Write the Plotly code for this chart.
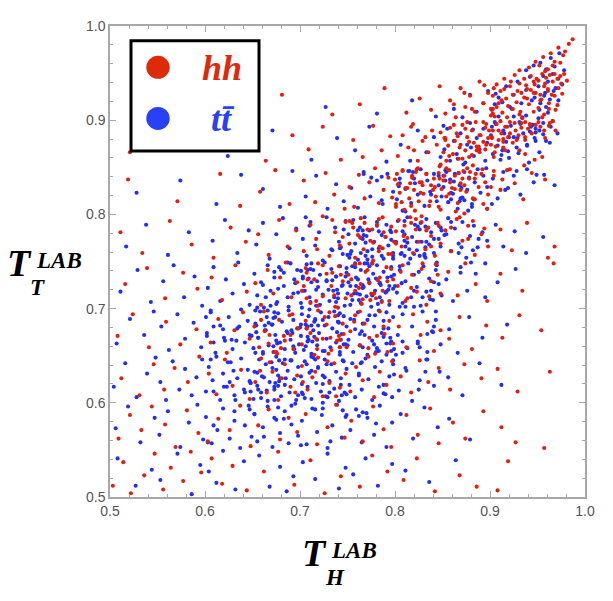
import plotly.graph_objects as go

# points, roughly cell by cell (0.05 x 0.05), bottom row first
tt_points = [
    # y 0.50-0.55
    (.508,.541),(.527,.512),(.544,.529),
    (.553,.518),(.571,.546),(.586,.503),(.595,.534),
    (.604,.527),(.619,.549),(.632,.508),(.641,.538),(.612,.515),
    (.657,.544),(.668,.511),(.679,.532),(.693,.522),(.686,.506),
    (.703,.537),(.716,.519),(.729,.546),(.741,.509),(.748,.531),
    (.756,.524),(.769,.541),(.782,.512),(.797,.535),
    (.811,.528),(.836,.516),(.864,.539),
    # y 0.55-0.60
    (.506,.573),(.519,.596),(.532,.558),(.547,.584),
    (.552,.566),(.561,.591),(.574,.553),(.583,.579),(.592,.598),(.598,.561),
    (.601,.585),(.607,.557),(.613,.571),(.619,.594),(.626,.562),(.631,.581),(.637,.552),(.642,.576),(.646,.597),(.649,.564),
    (.652,.588),(.655,.559),(.661,.574),(.666,.596),(.671,.553),(.675,.582),(.679,.568),(.684,.591),(.688,.557),(.691,.577),(.695,.599),(.698,.565),
    (.702,.581),(.707,.556),(.713,.594),(.718,.569),(.723,.587),(.729,.552),(.734,.576),(.739,.598),(.744,.563),(.748,.585),
    (.753,.571),(.759,.593),(.765,.558),(.771,.584),(.778,.566),(.784,.597),(.791,.553),(.797,.579),
    (.806,.588),(.819,.562),(.831,.595),(.845,.574),(.857,.583),(.879,.561),
    # y 0.60-0.65
    (.504,.617),(.516,.642),(.528,.606),(.539,.631),(.548,.648),
    (.553,.622),(.559,.603),(.566,.644),(.573,.614),(.579,.636),(.586,.608),(.591,.627),(.597,.646),
    (.601,.612),(.604,.638),(.608,.624),(.612,.649),(.616,.603),(.619,.631),(.623,.617),(.627,.643),(.631,.608),(.634,.626),(.638,.647),(.641,.614),(.645,.635),(.648,.621),
    (.651,.604),(.652,.633),(.655,.618),(.657,.646),(.659,.611),(.662,.627),(.664,.641),(.666,.602),(.668,.622),(.671,.637),(.673,.614),
    (.675,.649),(.677,.629),(.680,.607),(.682,.642),(.684,.619),(.687,.634),(.689,.611),(.691,.645),(.694,.625),(.696,.603),(.698,.638),
    (.701,.628),(.703,.609),(.705,.644),(.708,.617),(.710,.632),(.712,.604),(.714,.648),(.717,.621),(.719,.637),(.722,.612),(.724,.629),
    (.726,.646),(.729,.606),(.731,.623),(.733,.641),(.736,.615),(.738,.633),(.741,.602),(.743,.626),(.745,.645),(.747,.611),(.749,.636),
    (.752,.619),(.755,.642),(.758,.606),(.762,.631),(.765,.614),(.769,.647),(.772,.625),(.776,.603),(.779,.638),(.783,.617),(.786,.644),(.790,.609),(.794,.628),(.798,.641),
    (.804,.613),(.811,.637),(.818,.602),(.826,.624),(.833,.646),(.841,.618),(.847,.633),
    (.856,.627),(.871,.608),(.889,.642),(.912,.619),
    # y 0.65-0.70
    (.507,.663),(.521,.689),(.536,.672),(.546,.697),
    (.554,.681),(.562,.656),(.571,.694),(.579,.668),(.588,.685),(.596,.659),
    (.602,.674),(.606,.696),(.611,.653),(.616,.682),(.621,.666),(.625,.691),(.629,.657),(.634,.679),(.638,.699),(.642,.664),(.645,.687),(.649,.671),
    (.651,.658),(.653,.684),(.656,.669),(.658,.697),(.661,.652),(.663,.677),(.665,.691),(.667,.661),(.670,.683),(.672,.654),(.674,.672),
    (.677,.695),(.679,.664),(.681,.686),(.684,.657),(.686,.676),(.688,.698),(.690,.667),(.693,.688),(.695,.653),(.697,.679),(.699,.662),
    (.701,.671),(.702,.694),(.704,.656),(.706,.683),(.708,.665),(.710,.699),(.712,.652),(.714,.677),(.716,.688),(.718,.661),(.720,.674),(.722,.696),(.724,.655),
    (.726,.682),(.728,.668),(.730,.691),(.732,.659),(.734,.679),(.736,.697),(.738,.664),(.740,.686),(.742,.651),(.744,.673),(.746,.692),(.748,.662),(.749,.681),
    (.751,.667),(.753,.689),(.756,.654),(.758,.678),(.761,.696),(.763,.661),(.766,.684),(.768,.672),(.771,.651),(.773,.693),
    (.776,.666),(.778,.681),(.781,.658),(.783,.698),(.786,.674),(.788,.687),(.791,.663),(.793,.679),(.796,.655),(.798,.691),
    (.803,.672),(.808,.694),(.813,.658),(.818,.681),(.824,.665),(.829,.697),(.834,.654),(.839,.676),(.843,.688),(.848,.662),
    (.857,.678),(.866,.653),(.878,.691),(.892,.669),(.918,.683),
    # y 0.70-0.75
    (.511,.718),(.529,.741),(.543,.707),
    (.556,.729),(.567,.746),(.578,.712),(.589,.734),(.597,.703),
    (.603,.722),(.609,.744),(.616,.708),(.622,.731),(.629,.716),(.635,.749),(.641,.726),(.647,.704),
    (.652,.737),(.655,.714),(.659,.728),(.662,.701),(.666,.746),(.669,.719),(.673,.733),(.676,.707),(.680,.741),(.683,.724),(.687,.712),(.690,.748),(.694,.731),(.698,.717),
    (.701,.706),(.703,.734),(.705,.719),(.707,.747),(.710,.712),(.712,.728),(.714,.741),(.717,.703),(.719,.723),(.721,.736),(.724,.715),
    (.726,.749),(.728,.729),(.731,.708),(.733,.742),(.735,.719),(.738,.734),(.740,.711),(.742,.745),(.745,.725),(.747,.703),(.749,.738),
    (.751,.728),(.753,.704),(.755,.745),(.757,.716),(.759,.733),(.762,.709),(.764,.741),(.766,.722),(.768,.748),(.770,.713),(.772,.731),(.775,.702),
    (.777,.737),(.779,.719),(.781,.746),(.784,.727),(.786,.708),(.788,.739),(.790,.717),(.792,.733),(.794,.704),(.796,.744),(.798,.721),(.799,.736),
    (.802,.717),(.805,.741),(.808,.706),(.811,.729),(.814,.748),(.817,.712),(.820,.736),(.823,.723),
    (.827,.703),(.830,.745),(.833,.718),(.836,.732),(.840,.709),(.843,.741),(.846,.726),(.849,.714),
    (.854,.731),(.861,.708),(.869,.744),(.876,.719),(.885,.737),(.895,.712),(.908,.728),(.927,.742),
    # y 0.75-0.80
    (.517,.766),(.538,.789),(.561,.757),(.583,.781),
    (.608,.772),(.621,.794),(.634,.759),(.646,.783),
    (.654,.768),(.661,.791),(.668,.753),(.675,.779),(.682,.796),(.689,.764),(.696,.785),
    (.703,.774),(.707,.756),(.711,.792),(.716,.767),(.720,.781),(.724,.751),(.728,.797),(.733,.763),(.737,.786),(.741,.771),(.745,.758),(.748,.793),
    (.751,.779),(.753,.758),(.756,.794),(.758,.769),(.761,.752),(.763,.786),(.766,.774),(.768,.797),(.771,.761),(.773,.783),
    (.776,.755),(.778,.771),(.781,.792),(.783,.764),(.786,.778),(.788,.753),(.791,.789),(.793,.767),(.796,.781),(.798,.759),
    (.801,.771),(.803,.793),(.806,.758),(.808,.782),(.811,.766),(.813,.797),(.816,.753),(.818,.776),(.821,.789),(.823,.762),
    (.826,.784),(.828,.771),(.831,.756),(.833,.795),(.836,.768),(.838,.781),(.841,.759),(.843,.791),(.846,.774),(.848,.786),
    (.852,.778),(.856,.796),(.859,.761),(.863,.785),(.867,.769),(.871,.792),(.875,.754),(.879,.777),(.883,.788),(.887,.765),(.892,.781),(.897,.772),
    (.906,.789),(.914,.766),(.926,.782),(.938,.759),(.956,.776),
    # y 0.80-0.85
    (.528,.823),(.574,.836),(.612,.811),(.638,.842),
    (.661,.827),(.679,.808),(.692,.846),
    (.706,.819),(.717,.841),(.729,.806),(.738,.832),(.746,.814),
    (.754,.828),(.761,.807),(.767,.845),(.774,.819),(.781,.836),(.787,.811),(.792,.843),(.798,.824),
    (.802,.816),(.805,.838),(.808,.804),(.811,.827),(.814,.846),(.817,.812),(.821,.833),(.824,.821),
    (.827,.848),(.831,.809),(.834,.836),(.837,.824),(.841,.843),(.844,.814),(.846,.831),(.849,.819),
    (.851,.829),(.853,.847),(.856,.813),(.858,.837),(.861,.822),(.863,.843),(.866,.806),(.868,.831),(.871,.818),
    (.873,.845),(.876,.826),(.878,.839),(.881,.811),(.884,.834),(.887,.848),(.890,.823),(.893,.841),(.897,.829),
    (.903,.838),(.908,.817),(.914,.845),(.919,.828),(.925,.841),(.932,.821),(.939,.848),(.946,.834),
    (.957,.842),(.968,.831),
    # y 0.85-0.90
    (.531,.874),(.624,.862),(.671,.889),(.712,.858),(.739,.881),
    (.758,.868),(.773,.893),(.791,.856),
    (.806,.874),(.816,.857),(.824,.889),(.833,.866),(.841,.882),(.848,.861),
    (.852,.869),(.855,.891),(.858,.857),(.862,.878),(.865,.864),(.869,.886),(.872,.853),
    (.876,.874),(.879,.897),(.883,.862),(.886,.881),(.889,.869),(.893,.891),(.897,.876),
    (.901,.884),(.903,.864),(.906,.896),(.908,.873),(.911,.858),(.914,.889),(.917,.877),(.919,.867),
    (.922,.894),(.925,.882),(.928,.871),(.931,.898),(.935,.886),(.939,.874),(.943,.893),(.947,.881),
    (.952,.889),(.956,.897),(.959,.878),(.964,.893),(.971,.886),
    # y 0.90-0.95
    (.727,.914),(.781,.907),(.818,.921),(.843,.904),
    (.862,.912),(.871,.903),(.879,.927),(.886,.909),(.893,.918),(.898,.931),
    (.902,.911),(.906,.928),(.909,.904),(.913,.919),(.917,.936),(.921,.914),
    (.925,.927),(.929,.941),(.933,.918),(.938,.932),(.942,.946),(.947,.924),
    (.951,.936),(.953,.918),(.956,.947),(.958,.929),(.961,.941),(.963,.922),(.966,.949),(.969,.934),(.972,.944),(.976,.938),
    # y 0.95-1.00
    (.938,.953),(.946,.958),(.953,.961),(.959,.954),(.964,.966),(.968,.957),(.973,.971),
    # second pass over the dense parts
    (.631,.591),(.609,.576),(.603,.558),(.647,.593),
    (.673,.584),(.662,.564),(.683,.583),(.677,.595),(.652,.588),(.691,.597),
    (.716,.593),(.749,.587),(.701,.555),(.732,.559),(.724,.594),(.745,.592),
    (.780,.578),(.766,.590),(.762,.586),(.770,.589),
    (.648,.612),(.630,.634),(.632,.603),(.642,.611),(.620,.617),(.648,.621),
    (.698,.608),(.665,.613),(.678,.623),(.656,.614),(.670,.643),(.684,.646),(.659,.605),(.655,.632),(.673,.617),(.675,.635),
    (.744,.608),(.712,.634),(.731,.611),(.724,.600),(.728,.641),(.702,.620),(.719,.638),(.702,.611),(.705,.605),(.746,.644),
    (.762,.629),(.798,.645),(.799,.630),(.788,.619),(.764,.642),(.788,.610),(.797,.606),(.765,.643),
    (.834,.646),(.812,.634),(.825,.614),(.832,.633),
    (.628,.667),(.633,.666),(.602,.671),(.620,.669),(.609,.664),(.606,.698),
    (.656,.669),(.673,.696),(.653,.698),(.661,.654),(.654,.682),(.666,.698),(.671,.683),(.693,.660),(.672,.660),(.674,.691),(.691,.677),(.687,.674),
    (.708,.670),(.706,.660),(.713,.665),(.708,.681),(.724,.688),(.715,.670),(.742,.659),(.712,.682),(.742,.654),(.709,.667),(.715,.686),(.743,.667),(.739,.675),(.740,.686),
    (.750,.661),(.783,.655),(.780,.654),(.788,.670),(.796,.665),(.771,.688),(.791,.696),(.795,.669),(.791,.651),(.766,.659),
    (.841,.681),(.826,.659),(.808,.653),(.843,.697),(.834,.673),
    (.664,.712),(.683,.738),(.695,.727),(.688,.702),(.697,.741),(.693,.716),(.687,.749),(.655,.701),
    (.709,.732),(.744,.724),(.742,.745),(.728,.730),(.740,.716),(.736,.712),(.739,.720),(.712,.748),(.734,.730),(.703,.732),(.711,.742),(.717,.720),
    (.771,.748),(.758,.748),(.763,.715),(.773,.728),(.764,.706),(.793,.720),(.796,.734),(.755,.709),(.782,.705),(.767,.723),(.785,.725),(.758,.744),(.784,.712),(.761,.731),
    (.800,.724),(.841,.728),(.820,.702),(.838,.719),(.811,.702),(.805,.745),(.844,.746),(.829,.712),
    (.895,.748),(.880,.749),(.869,.738),
    (.742,.764),(.710,.788),(.706,.797),(.743,.765),(.746,.784),(.734,.762),
    (.764,.775),(.783,.782),(.767,.778),(.766,.783),(.771,.752),(.769,.770),(.764,.759),(.798,.756),(.769,.756),(.796,.773),(.798,.753),(.754,.761),
    (.832,.754),(.848,.766),(.833,.771),(.810,.793),(.810,.772),(.841,.774),(.827,.791),(.824,.787),(.820,.758),(.810,.756),(.815,.763),(.831,.758),
    (.888,.774),(.870,.765),(.859,.792),(.882,.762),(.854,.779),(.867,.759),
    (.786,.815),(.767,.843),(.775,.839),(.786,.840),
    (.811,.803),(.805,.833),(.804,.830),(.820,.838),(.815,.846),(.838,.821),(.846,.841),(.819,.845),
    (.851,.841),(.859,.816),(.881,.808),(.859,.823),(.853,.836),(.897,.806),(.873,.815),(.862,.835),(.883,.816),(.877,.804),
    (.902,.811),(.928,.846),(.916,.826),(.949,.842),
    (.851,.894),(.882,.890),(.874,.855),(.895,.857),(.880,.871),(.866,.859),
    (.912,.863),(.920,.860),(.948,.887),(.930,.865),(.932,.896),(.942,.888),(.920,.882),(.948,.878),(.948,.891),(.915,.886),
    (.963,.876),(.956,.885),(.966,.899),
    (.934,.903),(.909,.924),(.905,.917),(.923,.912),(.925,.904),(.944,.921),
    (.952,.911),(.957,.926),(.961,.908),(.967,.931),(.972,.921),(.978,.953),
    (.938,.905),(.951,.902),(.959,.914),(.941,.855),(.952,.866),
    # third pass, core of the blob
    (.677,.618),(.679,.626),(.678,.645),(.690,.645),(.673,.603),(.660,.628),(.674,.621),(.685,.626),
    (.712,.649),(.727,.607),(.724,.620),(.743,.619),(.749,.609),(.707,.641),(.716,.646),(.726,.627),
    (.672,.690),(.676,.663),(.653,.653),(.654,.675),(.694,.657),(.663,.682),(.667,.685),(.675,.666),(.664,.677),(.692,.674),
    (.716,.689),(.719,.682),(.700,.680),(.709,.692),(.718,.667),(.741,.685),(.746,.662),(.740,.693),(.707,.679),(.701,.683),(.742,.695),(.726,.655),
    (.795,.663),(.757,.688),(.763,.673),(.778,.662),(.779,.693),(.799,.657),(.765,.676),(.788,.679),
    (.738,.707),(.703,.719),(.702,.701),(.701,.740),(.711,.707),(.738,.734),(.718,.729),(.730,.720),(.721,.704),(.708,.741),(.749,.743),(.748,.734),
    (.766,.725),(.759,.724),(.776,.714),(.760,.716),(.780,.732),(.776,.748),(.750,.716),(.784,.727),(.791,.718),(.753,.724),(.773,.745),(.794,.724),
    (.837,.710),(.825,.739),(.807,.727),(.844,.749),(.820,.719),(.805,.702),
    (.770,.777),(.761,.783),(.786,.756),(.776,.763),(.781,.788),(.795,.783),(.750,.757),(.752,.754),
    (.849,.783),(.832,.765),(.810,.779),(.826,.756),(.823,.771),(.813,.770),(.807,.759),(.832,.787),
    (.609,.612),(.624,.643),(.626,.622),(.647,.623),(.606,.646),
    (.647,.672),(.609,.681),(.601,.691),(.619,.678),(.636,.681),
    (.840,.675),(.801,.651),(.808,.665),(.824,.663),
    (.677,.721),(.661,.725),(.673,.739),(.678,.744),(.675,.705),(.669,.703),
    (.869,.817),(.870,.828),(.854,.845),(.896,.849),(.867,.844),(.868,.814),
    (.945,.895),(.905,.898),(.929,.881),(.913,.868),(.939,.873),(.902,.893),
]

hh_points = [
    # y 0.50-0.55
    (.503,.512),(.514,.537),(.522,.504),(.536,.523),(.547,.546),
    (.556,.508),(.564,.531),(.577,.517),(.585,.548),(.596,.526),
    (.607,.541),(.618,.514),(.629,.533),(.644,.507),
    (.662,.527),(.677,.548),(.694,.513),
    (.711,.539),(.726,.504),(.743,.522),
    (.763,.511),(.776,.544),(.792,.527),
    (.809,.518),(.823,.541),(.842,.506),
    (.868,.523),(.886,.511),(.919,.538),(.908,.507),
    # y 0.55-0.60
    (.509,.562),(.521,.587),(.533,.571),(.544,.596),
    (.558,.577),(.569,.553),(.581,.592),(.593,.568),
    (.603,.559),(.614,.583),(.626,.571),(.637,.597),(.648,.554),
    (.656,.576),(.667,.593),(.679,.561),(.688,.584),(.697,.569),
    (.706,.588),(.718,.556),(.729,.574),(.738,.598),(.747,.563),
    (.754,.581),(.766,.559),(.777,.596),(.788,.572),(.796,.553),
    (.812,.587),(.824,.566),(.837,.594),(.846,.557),
    (.861,.579),(.874,.562),(.893,.591),(.912,.574),(.927,.558),(.957,.552),
    # y 0.60-0.65
    (.512,.626),(.531,.608),(.546,.641),
    (.557,.614),(.568,.637),(.582,.622),(.594,.649),
    (.604,.631),(.612,.609),(.621,.646),(.629,.618),(.638,.635),(.647,.604),
    (.653,.622),(.659,.647),(.665,.611),(.671,.633),(.677,.603),(.684,.641),(.690,.617),(.697,.629),
    (.702,.639),(.708,.614),(.713,.627),(.719,.648),(.724,.607),(.731,.621),(.736,.642),(.742,.616),(.748,.631),
    (.753,.612),(.759,.638),(.766,.624),(.772,.649),(.778,.606),(.784,.633),(.791,.619),(.797,.644),
    (.806,.628),(.817,.611),(.826,.645),(.835,.622),(.846,.637),
    (.858,.614),(.873,.641),(.891,.626),(.908,.636),(.929,.612),(.963,.633),
    # y 0.65-0.70
    (.508,.671),(.524,.694),(.541,.659),
    (.559,.686),(.574,.662),(.591,.678),
    (.606,.664),(.614,.689),(.623,.653),(.631,.677),(.640,.696),(.647,.668),
    (.652,.681),(.657,.659),(.662,.697),(.668,.672),(.673,.654),(.678,.688),(.684,.666),(.689,.693),(.693,.657),(.698,.679),
    (.702,.662),(.706,.687),(.711,.674),(.715,.651),(.719,.698),(.724,.668),(.728,.683),(.733,.656),(.737,.692),(.741,.671),(.745,.684),(.749,.659),
    (.753,.676),(.758,.693),(.763,.661),(.768,.684),(.773,.669),(.779,.652),(.784,.697),(.789,.673),(.794,.687),(.798,.663),
    (.804,.681),(.812,.659),(.819,.694),(.827,.672),(.834,.686),(.841,.655),(.848,.677),
    (.857,.668),(.868,.691),(.881,.657),(.896,.682),(.913,.669),(.931,.693),(.954,.677),
    # y 0.70-0.75
    (.516,.726),(.539,.743),
    (.558,.711),(.577,.738),(.592,.721),
    (.607,.733),(.618,.709),(.632,.746),(.644,.718),
    (.653,.727),(.659,.704),(.666,.741),(.672,.716),(.679,.733),(.685,.749),(.691,.712),(.697,.728),
    (.702,.719),(.706,.743),(.711,.706),(.715,.731),(.719,.748),(.724,.713),(.728,.737),(.733,.724),(.737,.702),(.741,.745),(.745,.729),(.748,.711),
    (.751,.736),(.754,.714),(.758,.747),(.762,.722),(.765,.705),(.769,.739),(.773,.727),
    (.776,.748),(.780,.711),(.784,.733),(.787,.719),(.791,.744),(.794,.708),(.798,.731),
    (.803,.724),(.808,.746),(.813,.711),(.818,.736),(.823,.718),(.828,.742),(.833,.704),(.838,.729),(.843,.747),(.848,.716),
    (.856,.739),(.866,.714),(.874,.748),(.885,.726),(.897,.708),(.911,.737),(.934,.719),(.967,.748),
    # y 0.75-0.80
    (.511,.781),(.534,.759),(.563,.793),(.586,.768),
    (.609,.754),(.627,.786),(.643,.771),
    (.656,.779),(.667,.757),(.678,.794),(.687,.766),(.696,.783),
    (.704,.761),(.711,.789),(.717,.774),(.724,.798),(.731,.756),(.737,.781),(.742,.767),(.748,.792),
    (.752,.769),(.755,.791),(.758,.754),(.761,.778),(.764,.796),(.767,.763),(.771,.784),(.774,.772),
    (.777,.751),(.781,.789),(.784,.766),(.787,.797),(.790,.776),(.793,.758),(.796,.787),(.799,.771),
    (.801,.782),(.804,.794),(.807,.766),(.810,.788),(.813,.775),(.816,.797),(.819,.759),(.822,.784),
    (.825,.771),(.828,.792),(.832,.763),(.835,.786),(.838,.777),(.842,.756),(.845,.791),(.848,.769),
    (.853,.783),(.859,.761),(.865,.795),(.871,.772),(.877,.788),(.884,.757),(.891,.779),(.898,.766),
    (.911,.784),(.923,.762),(.939,.791),(.961,.754),(.968,.766),
    # y 0.80-0.85
    (.519,.837),(.571,.814),(.616,.843),(.637,.809),
    (.658,.824),(.674,.847),(.689,.811),
    (.704,.836),(.716,.813),(.727,.844),(.736,.821),(.747,.806),
    (.752,.829),(.757,.808),(.762,.842),(.768,.817),(.773,.834),(.779,.849),(.783,.812),(.788,.826),(.793,.839),(.797,.818),
    (.801,.811),(.803,.832),(.805,.823),(.808,.846),(.810,.805),(.813,.828),(.815,.817),(.818,.839),(.820,.826),(.823,.848),
    (.825,.814),(.828,.834),(.830,.822),(.833,.843),(.836,.809),(.838,.831),(.841,.838),(.843,.819),(.846,.844),(.849,.827),
    (.851,.836),(.854,.819),(.857,.847),(.860,.828),(.863,.841),(.866,.812),(.869,.833),(.872,.846),
    (.875,.824),(.878,.838),(.882,.817),(.885,.843),(.888,.829),(.892,.848),(.895,.834),(.898,.821),
    (.904,.841),(.911,.826),(.918,.847),(.926,.833),(.935,.816),(.944,.844),(.958,.837),
    # y 0.85-0.90
    (.521,.866),(.583,.891),(.641,.872),(.664,.857),(.692,.884),
    (.709,.869),(.724,.893),(.743,.858),
    (.756,.879),(.766,.861),(.777,.894),(.786,.868),(.795,.883),
    (.803,.862),(.808,.884),(.814,.871),(.819,.896),(.824,.857),(.829,.878),(.835,.866),(.839,.889),(.844,.874),(.848,.853),
    (.851,.866),(.852,.881),(.854,.857),(.856,.873),(.858,.892),(.861,.864),(.863,.878),(.865,.886),(.867,.859),(.869,.874),(.871,.895),
    (.874,.868),(.876,.882),(.878,.861),(.881,.889),(.883,.876),(.885,.898),(.888,.869),(.890,.884),(.893,.877),(.895,.892),(.898,.881),
    (.901,.874),(.903,.889),(.905,.866),(.907,.896),(.909,.879),(.912,.886),(.914,.871),(.916,.893),(.919,.882),
    (.921,.898),(.924,.876),(.927,.889),(.930,.884),(.933,.897),(.937,.879),(.940,.891),(.944,.886),(.948,.895),
    (.953,.893),(.958,.881),(.963,.897),(.969,.889),
    # y 0.90-0.95
    (.566,.912),(.681,.927),(.734,.906),(.763,.917),(.789,.934),
    (.812,.908),(.826,.923),(.838,.911),(.847,.936),
    (.853,.907),(.858,.921),(.864,.903),(.869,.934),(.874,.914),(.879,.926),(.884,.909),(.889,.941),(.893,.918),(.898,.929),
    (.901,.912),(.903,.926),(.905,.904),(.907,.938),(.909,.918),(.911,.931),(.913,.908),(.915,.944),(.917,.923),(.919,.915),
    (.921,.936),(.924,.927),(.926,.948),(.928,.919),(.931,.939),(.933,.929),(.936,.944),(.939,.933),(.943,.947),(.947,.938),
    (.951,.942),(.953,.927),(.955,.949),(.957,.936),(.959,.945),(.961,.931),(.963,.948),(.966,.941),(.968,.949),(.971,.944),(.974,.947),(.978,.949),
    # y 0.95-1.00
    (.931,.953),(.941,.956),(.948,.962),
    (.952,.958),(.956,.967),(.961,.954),(.964,.971),(.968,.962),(.972,.977),(.977,.969),(.983,.981),(.987,.986),
    # second pass over the diagonal band and the core
    (.768,.791),(.790,.776),(.796,.758),(.752,.793),(.776,.784),(.787,.764),
    (.817,.791),(.833,.783),(.801,.769),(.822,.795),(.846,.788),(.809,.777),(.828,.798),(.838,.766),
    (.818,.841),(.840,.826),(.846,.808),(.802,.843),(.826,.834),(.837,.814),(.816,.833),
    (.822,.845),(.847,.838),(.808,.847),(.833,.843),(.800,.837),(.848,.805),(.817,.809),
    (.867,.844),(.854,.849),(.858,.834),(.871,.838),(.863,.827),(.852,.841),
    (.879,.845),(.884,.838),(.869,.826),(.857,.822),(.876,.849),(.891,.843),
    (.904,.846),(.913,.837),(.901,.829),(.921,.848),
    (.868,.871),(.881,.863),(.874,.891),(.853,.879),(.862,.895),(.886,.872),(.893,.898),
    (.899,.889),(.857,.862),(.878,.877),(.866,.883),(.889,.866),(.871,.859),(.896,.874),
    (.902,.881),(.918,.893),(.906,.872),(.926,.897),(.911,.899),(.933,.892),(.904,.861),
    (.921,.886),(.914,.877),(.937,.898),(.909,.889),(.928,.879),(.942,.896),(.916,.868),
    (.951,.898),(.957,.889),(.962,.894),(.966,.899),
    (.903,.907),(.912,.921),(.918,.903),(.924,.912),(.931,.906),(.936,.924),(.907,.914),
    (.941,.917),(.929,.931),(.946,.929),(.915,.933),(.922,.941),(.938,.937),(.949,.944),
    (.951,.913),(.954,.922),(.957,.906),(.962,.918),(.965,.927),(.969,.911),(.972,.934),(.958,.939),(.976,.928),(.981,.942),
    (.958,.952),(.966,.958),(.974,.961),(.979,.973),
    (.934,.902),(.946,.909),(.955,.903),(.962,.912),(.971,.916),
    (.936,.852),(.947,.858),(.955,.861),
    (.668,.643),(.681,.626),(.695,.611),(.658,.634),
    (.703,.622),(.729,.644),(.738,.607),(.716,.633),
    (.683,.671),(.659,.688),(.692,.694),(.667,.663),(.676,.652),
    (.707,.679),(.731,.696),(.742,.667),(.718,.657),(.726,.691),(.746,.673),
    (.757,.686),(.772,.658),(.788,.681),(.763,.697),(.792,.654),(.781,.671),
    (.708,.731),(.724,.746),(.736,.714),(.717,.708),(.743,.736),(.704,.724),
    (.758,.719),(.771,.741),(.786,.707),(.792,.729),(.763,.748),(.778,.716),(.796,.742),(.754,.731),
    (.806,.739),(.817,.722),(.829,.748),(.836,.713),(.845,.736),(.811,.708),
    (.718,.763),(.734,.794),(.745,.776),
    (.859,.786),(.868,.797),(.877,.774),(.882,.793),(.894,.785),
    # third pass
    (.829,.831),(.827,.823),(.811,.828),(.821,.804),(.824,.849),(.842,.829),(.807,.813),(.801,.808),
    (.876,.898),(.895,.869),(.886,.868),(.853,.881),(.882,.852),(.888,.872),(.889,.884),(.896,.896),
    (.901,.905),(.932,.909),(.939,.923),(.948,.929),(.946,.941),(.943,.932),(.903,.912),(.904,.934),
    (.893,.811),(.873,.801),(.873,.831),(.897,.806),(.884,.816),(.864,.803),
    (.847,.851),(.848,.887),(.817,.893),(.820,.868),(.832,.882),
    (.937,.864),(.914,.880),(.942,.895),(.931,.868),(.902,.882),(.937,.882),
    (.777,.770),(.783,.761),(.756,.786),(.763,.776),(.788,.781),(.783,.795),
    (.707,.738),(.719,.703),(.740,.701),(.707,.711),(.734,.738),
    (.739,.666),(.732,.669),(.730,.652),(.742,.659),(.717,.668),
    (.775,.716),(.774,.709),(.764,.726),(.766,.710),(.782,.730),
    (.690,.672),(.663,.676),(.680,.658),(.675,.654),
    (.953,.921),(.961,.933),(.968,.926),(.975,.939),
    (.862,.917),(.873,.929),(.881,.912),(.894,.937),
]

tick_vals = [0.5, 0.6, 0.7, 0.8, 0.9, 1.0]
tick_text = ["0.5", "0.6", "0.7", "0.8", "0.9", "1.0"]

tt_x, tt_y = zip(*tt_points)
hh_x, hh_y = zip(*hh_points)

red = "rgb(228,30,14)"
blue = "rgb(34,46,246)"

fig = go.Figure()
fig.add_trace(go.Scatter(x=tt_x, y=tt_y, mode="markers",
                         marker=dict(color=blue, size=4.1, line=dict(width=0))))
fig.add_trace(go.Scatter(x=hh_x, y=hh_y, mode="markers",
                         marker=dict(color=red, size=4.1, line=dict(width=0))))

axis = dict(range=[0.5, 1.0], tickvals=tick_vals, ticktext=tick_text,
            ticks="inside", ticklen=6, tickcolor="#a8a8a8", tickwidth=1,
            minor=dict(dtick=0.02, tick0=0.5, ticks="inside", ticklen=3,
                       tickcolor="#a8a8a8", showgrid=False),
            showline=True, linecolor="#a8a8a8", linewidth=1.5, mirror="ticks",
            showgrid=False, zeroline=False,
            tickfont=dict(family="Liberation Sans, Arial", size=14, color="#555555"))

# the page body adds 8px, so the margins are 8px smaller on the left/top
fig.update_layout(
    width=613, height=601,
    margin=dict(l=102, r=36, t=10, b=112),
    plot_bgcolor="white", paper_bgcolor="white",
    showlegend=False,
    xaxis=axis, yaxis=axis,
)

# helpers: page pixel -> paper coordinate of the plot area (110..585, 18..497)
def px(x):
    return (x - 110) / 475

def py(y):
    return (497 - y) / 479

# legend box
fig.add_shape(type="rect", xref="paper", yref="paper",
              x0=px(131), x1=px(259), y0=py(145), y1=py(33),
              line=dict(color="black", width=3), fillcolor="white")
r = 11.7
for cy, col in [(60, "rgb(221,42,10)"), (112, "rgb(40,64,246)")]:
    fig.add_shape(type="circle", xref="paper", yref="paper",
                  x0=px(158 - r), x1=px(158 + r), y0=py(cy + r), y1=py(cy - r),
                  line=dict(width=0), fillcolor=col)

serif = "Liberation Serif, Times New Roman, serif"
fig.add_annotation(x=px(222), y=py(61), xref="paper", yref="paper",
                   xanchor="center", yanchor="middle",
                   text="<b><i>hh</i></b>", showarrow=False,
                   font=dict(family=serif, size=36, color="rgb(221,42,10)"))
fig.add_annotation(x=px(222), y=py(113), xref="paper", yref="paper",
                   xanchor="center", yanchor="middle",
                   text="<b><i>tt\u0304</i></b>", showarrow=False,
                   font=dict(family=serif, size=36, color="rgb(40,64,246)"))

# axis titles: big T with stacked sub/superscripts (y0 ~ baseline + 10)
def title(x0, y0, sub):
    fig.add_annotation(x=px(x0), y=py(y0), xref="paper", yref="paper",
                       xanchor="left", yanchor="bottom", text="<b><i>T</i></b>",
                       showarrow=False, font=dict(family=serif, size=38, color="black"))
    fig.add_annotation(x=px(x0 + 29), y=py(y0 - 11), xref="paper", yref="paper",
                       xanchor="left", yanchor="bottom", text="<b><i>LAB</i></b>",
                       showarrow=False, font=dict(family=serif, size=23, color="black"))
    fig.add_annotation(x=px(x0 + 23), y=py(y0 + 17), xref="paper", yref="paper",
                       xanchor="left", yanchor="bottom", text="<b><i>" + sub + "</i></b>",
                       showarrow=False, font=dict(family=serif, size=23, color="black"))

title(300, 577, "H")
title(5, 282, "T")

fig.write_html("out.html")
